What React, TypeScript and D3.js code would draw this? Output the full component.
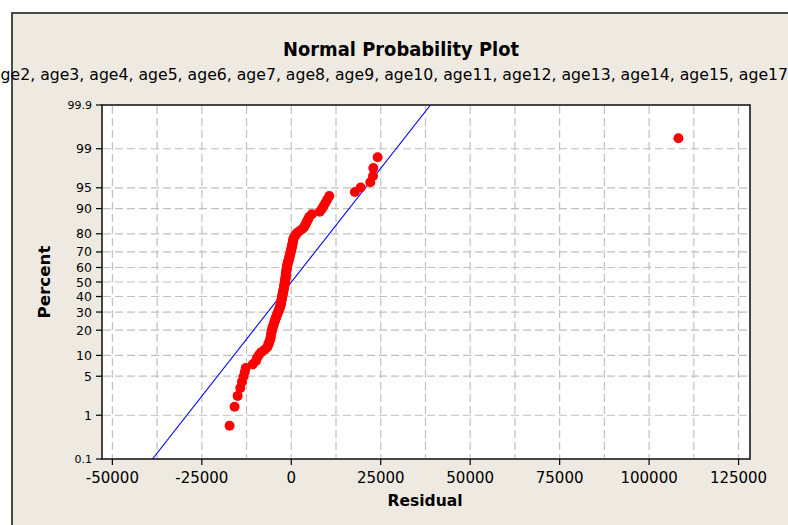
import React from "react";
import * as d3 from "d3";

// ---- data ----
const residuals: number[] = [
  -17250, -15850, -15000, -14260, -13780, -13340, -13000, -12720, -10760, -9870,
  -9560, -9060, -8420, -7470, -6710, -6460, -6210, -5980, -5820, -5730,
  -5650, -5550, -5460, -5350, -5200, -5050, -4890, -4740, -4590, -4440,
  -4290, -4140, -3980, -3830, -3680, -3530, -3370, -3220, -3070, -3000,
  -2930, -2860, -2780, -2710, -2640, -2570, -2500, -2430, -2350, -2280,
  -2210, -2140, -2080, -2020, -1960, -1900, -1850, -1790, -1730, -1670,
  -1620, -1580, -1540, -1490, -1450, -1400, -1350, -1310, -1260, -1220,
  -1140, -1050, -950, -850, -750, -660, -560, -470, -370, -270,
  -180, -80, 10, 110, 210, 290, 370, 460, 550, 630,
  920, 1250, 1570, 2240, 2930, 3510, 3810, 4110, 4400, 4720,
  5040, 5730, 7950, 8540, 9030, 9510, 10030, 10620, 17780, 19380,
  22090, 22840, 22930, 24130, 108200,
];

const yTicks: number[] = [0.1, 1, 5, 10, 20, 30, 40, 50, 60, 70, 80, 90, 95, 99, 99.9];
const yGridTicks: number[] = [1, 5, 10, 20, 30, 40, 50, 60, 70, 80, 90, 95, 99];
const xTicks: number[] = [-50000, -25000, 0, 25000, 50000, 75000, 100000, 125000];
const xGridTicks: number[] = [
  -50000, -37500, -25000, -12500, 0, 12500, 25000, 37500, 50000, 62500, 75000,
  87500, 100000, 112500, 125000,
];
const fitLine = [
  { residual: -38800, percent: 0.1 },
  { residual: 38900, percent: 99.9 },
];

const titleText = "Normal Probability Plot";
const subtitleText =
  "age2, age3, age4, age5, age6, age7, age8, age9, age10, age11, age12, age13, age14, age15, age17";
const xTitle = "Residual";
const yTitle = "Percent";

// inverse standard normal CDF (Acklam)
function qnorm(p: number): number {
  const a = [-3.969683028665376e1, 2.209460984245205e2, -2.759285104469687e2, 1.38357751867269e2, -3.066479806614716e1, 2.506628277459239];
  const b = [-5.447609879822406e1, 1.615858368580409e2, -1.556989798598866e2, 6.680131188771972e1, -1.328068155288572e1];
  const c = [-7.784894002430293e-3, -3.223964580411365e-1, -2.400758277161838, -2.549732539343734, 4.374664141464968, 2.938163982698783];
  const d = [7.784695709041462e-3, 3.224671290700398e-1, 2.445134137142996, 3.754408661907416];
  const pl = 0.02425;
  let q: number, r: number;
  if (p < pl) {
    q = Math.sqrt(-2 * Math.log(p));
    return (((((c[0] * q + c[1]) * q + c[2]) * q + c[3]) * q + c[4]) * q + c[5]) / ((((d[0] * q + d[1]) * q + d[2]) * q + d[3]) * q + 1);
  } else if (p <= 1 - pl) {
    q = p - 0.5;
    r = q * q;
    return ((((((a[0] * r + a[1]) * r + a[2]) * r + a[3]) * r + a[4]) * r + a[5]) * q) / (((((b[0] * r + b[1]) * r + b[2]) * r + b[3]) * r + b[4]) * r + 1);
  } else {
    q = Math.sqrt(-2 * Math.log(1 - p));
    return -(((((c[0] * q + c[1]) * q + c[2]) * q + c[3]) * q + c[4]) * q + c[5]) / ((((d[0] * q + d[1]) * q + d[2]) * q + d[3]) * q + 1);
  }
}

const W = 788;
const H = 525;
const L = 102, R = 750, T = 105, B = 459;
const FONT = "'DejaVu Sans', Verdana, sans-serif";

export default function App() {
  const x = d3.scaleLinear().domain([-52900, 128200]).range([L, R]);
  const zScale = d3.scaleLinear().domain([qnorm(0.001), qnorm(0.999)]).range([B, T]);
  const y = (pct: number) => zScale(qnorm(pct / 100));

  const n = residuals.length;
  const sorted = residuals.slice().sort((a, b) => a - b);
  const points = sorted.map((r, i) => ({ r, pct: ((i + 1 - 0.3) / (n + 0.4)) * 100 }));

  const line = d3
    .line<{ residual: number; percent: number }>()
    .x((d) => x(d.residual))
    .y((d) => y(d.percent));

  return (
    <svg width={W} height={H} style={{ position: "absolute", left: 0, top: 0, display: "block" }}>
      <rect x={0} y={0} width={W} height={H} fill="#ffffff" />
      <rect x={12} y={13} width={W + 20} height={H + 20} fill="#EEEAE1" stroke="#4a4a4a" strokeWidth={2} />
      <text x={401} y={56} textAnchor="middle" fontFamily={FONT} fontWeight="bold" fontSize={19.5} textLength={236} lengthAdjust="spacingAndGlyphs" fill="#000">
        {titleText}
      </text>
      <text x={-9} y={80} fontFamily={FONT} fontSize={16.5} textLength={797} lengthAdjust="spacingAndGlyphs" fill="#000">
        {subtitleText}
      </text>

      <defs>
        <clipPath id="plotClip">
          <rect x={L} y={T} width={R - L} height={B - T} />
        </clipPath>
      </defs>
      <rect x={L} y={T} width={R - L} height={B - T} fill="#ffffff" />

      {/* grid */}
      <g stroke="#c0c0c0" strokeWidth={1.2} strokeDasharray="8,4">
        {xGridTicks.map((v) => (
          <line key={"gx" + v} x1={x(v)} x2={x(v)} y1={T + 1} y2={B - 1} />
        ))}
        {yGridTicks.map((v) => (
          <line key={"gy" + v} x1={L + 1} x2={R - 1} y1={y(v)} y2={y(v)} />
        ))}
      </g>

      {/* fitted line */}
      <path d={line(fitLine) || ""} fill="none" stroke="#0000ff" strokeWidth={1.1} clipPath="url(#plotClip)" />

      {/* points */}
      <g fill="#ff0000">
        {points.map((p, i) => (
          <circle key={i} cx={x(p.r)} cy={y(p.pct)} r={5} />
        ))}
      </g>

      {/* frame */}
      <rect x={L} y={T} width={R - L} height={B - T} fill="none" stroke="#1a1a1a" strokeWidth={1.6} />

      {/* y axis */}
      <g fontFamily={FONT} fill="#000">
        {yTicks.map((v) => (
          <g key={"yt" + v}>
            <line x1={96} x2={L} y1={y(v)} y2={y(v)} stroke="#000" strokeWidth={1.2} />
            <text
              x={92}
              y={y(v)}
              textAnchor="end"
              dominantBaseline="central"
              fontSize={v === 0.1 || v === 99.9 ? 11 : 12.5}
            >
              {String(v)}
            </text>
          </g>
        ))}
      </g>

      {/* x axis */}
      <g fontFamily={FONT} fill="#000">
        {xTicks.map((v) => (
          <g key={"xt" + v}>
            <line x1={x(v)} x2={x(v)} y1={B} y2={B + 6} stroke="#000" strokeWidth={1.2} />
            <text x={x(v)} y={483} textAnchor="middle" fontSize={15}>
              {String(v)}
            </text>
          </g>
        ))}
      </g>

      <text x={425} y={506} textAnchor="middle" fontFamily={FONT} fontWeight="bold" fontSize={16} textLength={75} lengthAdjust="spacingAndGlyphs">
        {xTitle}
      </text>
      <text
        transform={`translate(50,${282}) rotate(-90)`}
        textAnchor="middle"
        fontFamily={FONT}
        fontWeight="bold"
        fontSize={16}
        textLength={73}
        lengthAdjust="spacingAndGlyphs"
      >
        {yTitle}
      </text>
    </svg>
  );
}
